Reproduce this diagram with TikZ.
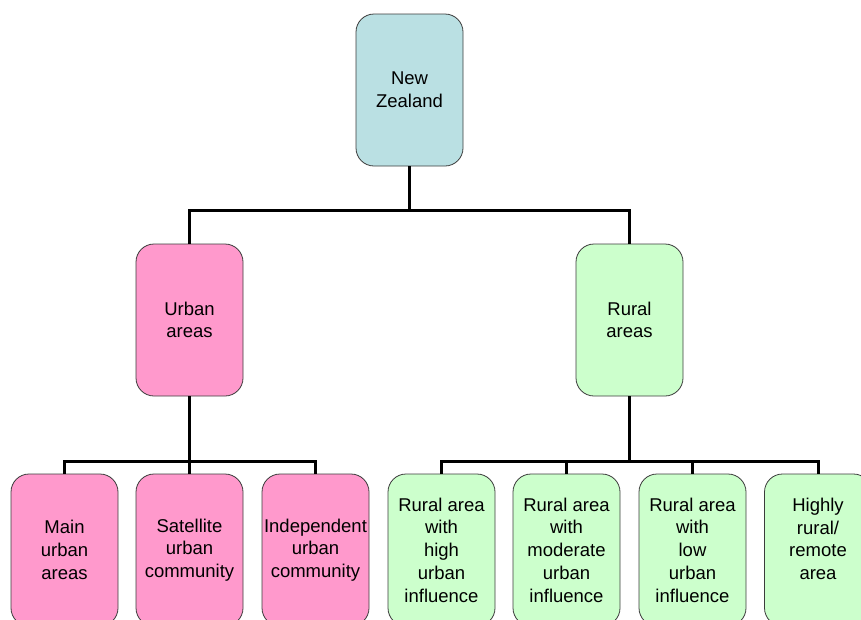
\documentclass[tikz,border=0pt]{standalone}
\usepackage{fontspec}
\setmainfont{Liberation Sans}
\definecolor{nzfill}{RGB}{186,224,227}
\definecolor{urbfill}{RGB}{255,153,204}
\definecolor{rurfill}{RGB}{204,255,204}
\definecolor{boxline}{RGB}{60,60,60}
\tikzset{
  orgbox/.style={draw=boxline, line width=0.8pt, rounded corners=18pt,
    minimum width=107pt, minimum height=152pt, inner sep=0pt,
    align=center, font=\fontsize{18.5}{22.7}\selectfont},
  nzbox/.style={orgbox, fill=nzfill},
  urbbox/.style={orgbox, fill=urbfill},
  rurbox/.style={orgbox, fill=rurfill},
  conn/.style={line width=3pt, black}
}
\begin{document}
\begin{tikzpicture}[x=1pt,y=-1pt]
\useasboundingbox (0,0) rectangle (861,619);
\clip (0,0) rectangle (861,619);
\node[nzbox] (nz) at (409.5,90) {New\\Zealand};
\node[urbbox] (urban) at (189.5,320) {Urban\\areas};
\node[rurbox] (rural) at (629.5,320) {Rural\\areas};
\node[urbbox] (main) at (64.5,550) {Main\\urban\\areas};
\node[urbbox] (sat) at (189.5,550) {Satellite\\urban\\community};
\node[urbbox] (indep) at (315.5,550) {Independent\\urban\\community};
\node[rurbox] (rhigh) at (441.5,550) {Rural area\\with\\high\\urban\\influence};
\node[rurbox] (rmod) at (566.5,550) {Rural area\\with\\moderate\\urban\\influence};
\node[rurbox] (rlow) at (692.5,550) {Rural area\\with\\low\\urban\\influence};
\node[rurbox] (remote) at (818,550) {Highly\\rural/\\remote\\area\\\mbox{}};
\coordinate (bar1) at (409.5,210);
\coordinate (bar2) at (189.5,461);
\coordinate (bar3) at (629.5,461);
\draw[conn] (nz.south) -- (bar1);
\draw[conn] (urban.north) |- (bar1) -| (rural.north);
\draw[conn] (urban.south) -- (bar2);
\draw[conn] (main.north) |- (bar2) -| (indep.north);
\draw[conn] (sat.north) -- (sat.north |- bar2);
\draw[conn] (rural.south) -- (bar3);
\draw[conn] (rhigh.north) |- (bar3) -| (remote.north);
\draw[conn] (rmod.north) -- (rmod.north |- bar3);
\draw[conn] (rlow.north) -- (rlow.north |- bar3);
\end{tikzpicture}
\end{document}
